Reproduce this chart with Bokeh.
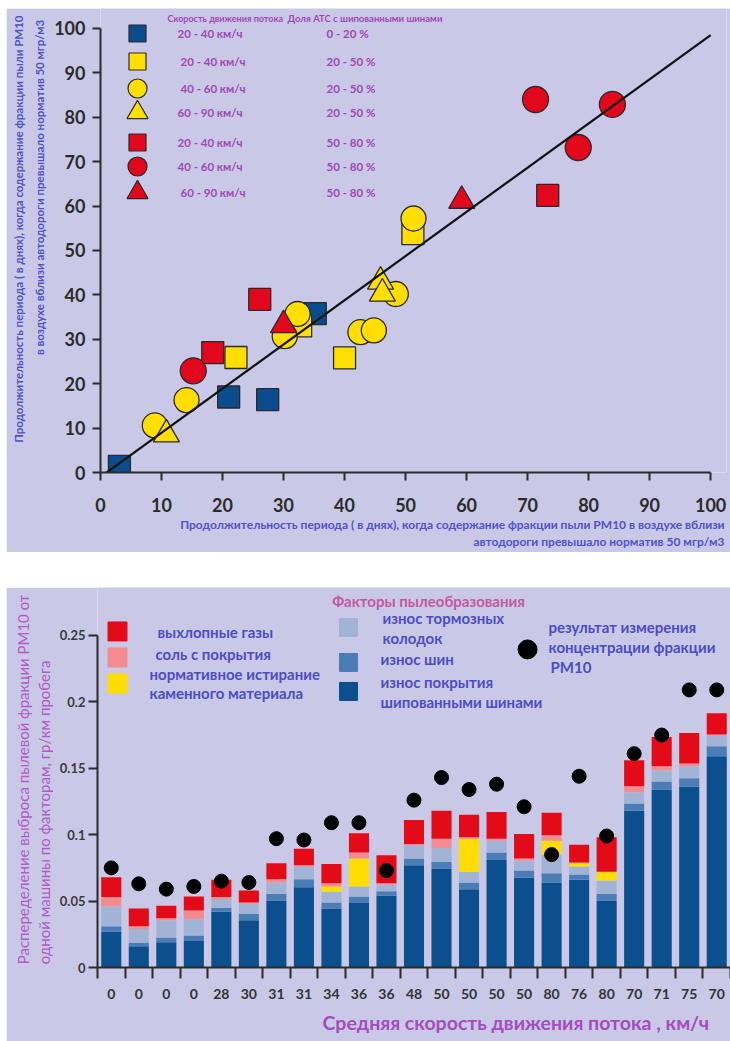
from bokeh.embed import file_html
from bokeh.layouts import column, row
from bokeh.models import ColumnDataSource, FixedTicker, Label, Range1d, Spacer, Title
from bokeh.plotting import figure
from bokeh.resources import INLINE

FONT = "Lato"
BG = "#c9c9e7"
INK = "#2b2b2b"

# ---------------------------------------------------------------------------
# Scatter: days above the PM10 limit (x: measured, y: calculated)
# ---------------------------------------------------------------------------
blue_sq_x = [3.1, 21.0, 27.4, 35.2]
blue_sq_y = [1.4, 17.0, 16.4, 35.8]
yellow_sq_x = [22.2, 32.8, 40.0, 51.2]
yellow_sq_y = [25.9, 33.0, 25.8, 53.8]
yellow_ci_x = [8.9, 14.1, 30.2, 32.3, 42.6, 44.8, 48.4, 51.3]
yellow_ci_y = [10.6, 16.3, 30.7, 35.7, 31.6, 32.0, 40.2, 57.2]
yellow_tr_x = [10.8, 45.9, 46.2]
yellow_tr_y = [8.6, 43.0, 40.3]
red_sq_x = [18.4, 26.1, 73.3]
red_sq_y = [27.0, 39.0, 62.4]
red_ci_x = [15.2, 71.3, 78.3, 83.9]
red_ci_y = [22.9, 84.0, 73.2, 82.9]
red_tr_x = [30.0, 59.2]
red_tr_y = [33.2, 61.2]
fit_x = [0, 100]
fit_y = [-1.0, 98.5]
scatter_ticks = [0, 10, 20, 30, 40, 50, 60, 70, 80, 90, 100]

speed_classes = ["20 - 40  км/ч", "20 - 40  км/ч", "40 - 60 км/ч", "60 - 90 км/ч",
                 "20 - 40  км/ч", "40 - 60 км/ч", "60 - 90 км/ч"]
stud_shares = ["0 - 20 %", "20 - 50 %", "20 - 50 %", "20 - 50 %",
               "50 - 80 %", "50 - 80 %", "50 - 80 %"]

# ---------------------------------------------------------------------------
# Bars: PM10 emission per vehicle split by source, g/km
# ---------------------------------------------------------------------------
speed_labels = ["0", "0", "0", "0", "28", "30", "31", "31", "34", "36", "36", "48",
                "50", "50", "50", "50", "80", "76", "80", "70", "71", "75", "70"]
stud_wear = [0.027, 0.016, 0.019, 0.020, 0.042, 0.0355, 0.0505, 0.0605, 0.0445, 0.0485,
             0.054, 0.077, 0.0745, 0.059, 0.081, 0.0675, 0.064, 0.066, 0.0505, 0.118,
             0.134, 0.136, 0.159]
tyre_wear = [0.004, 0.0025, 0.0035, 0.004, 0.003, 0.005, 0.005, 0.006, 0.0045, 0.005,
             0.0035, 0.005, 0.005, 0.005, 0.0055, 0.0055, 0.007, 0.004, 0.005, 0.0055,
             0.006, 0.0065, 0.0075]
brake_wear = [0.015, 0.0105, 0.013, 0.0125, 0.0065, 0.0075, 0.0085, 0.0095, 0.008, 0.0075,
              0.005, 0.010, 0.0105, 0.008, 0.009, 0.0075, 0.014, 0.006, 0.010, 0.0085,
              0.0085, 0.009, 0.008]
stone_abrasion = [0, 0, 0, 0, 0, 0, 0, 0, 0.004, 0.021, 0, 0, 0, 0.025, 0, 0, 0.0105,
                  0.0025, 0.0065, 0, 0, 0, 0]
road_salt = [0.007, 0.002, 0.0015, 0.0065, 0.0015, 0.001, 0.0025, 0.001, 0.0025, 0.0045,
             0.001, 0.001, 0.007, 0.001, 0.0015, 0.0015, 0.004, 0.0005, 0.0, 0.0045,
             0.003, 0.002, 0.001]
exhaust = [0.015, 0.0135, 0.0095, 0.0105, 0.013, 0.009, 0.012, 0.0125, 0.0145, 0.0145,
           0.021, 0.018, 0.021, 0.017, 0.020, 0.0185, 0.017, 0.0135, 0.026, 0.0195,
           0.022, 0.023, 0.016]
measured = [0.075, 0.063, 0.059, 0.061, 0.065, 0.064, 0.097, 0.096, 0.109, 0.109, 0.073,
            0.126, 0.143, 0.134, 0.138, 0.121, 0.085, 0.144, 0.099, 0.161, 0.175, 0.209,
            0.209]
bar_ticks = [0, 0.05, 0.1, 0.15, 0.2, 0.25]
bar_tick_text = ["0", "0.05", "0.1", "0.15", "0.2", "0.25"]

C_BLUE, C_YELLOW, C_RED = "#0b4d8c", "#ffde00", "#e3071c"
C_STUD, C_TYRE, C_BRAKE = "#0c4f8f", "#4a7cb6", "#a2b4d6"
C_STONE, C_SALT, C_EXH = "#ffdd00", "#f28c90", "#e40b19"


def label(fig, x, y, text, size, color, style="bold", align="left"):
    fig.add_layout(Label(x=x, y=y, text=text, text_font=FONT,
                         text_font_size=f"{size}px", text_font_style=style,
                         text_color=color, text_align=align, text_baseline="middle"))


def side_title(fig, side, text, size, color, align, offset, standoff, style="bold",
               line_height=1.2):
    fig.add_layout(Title(text=text, align=align, offset=offset, standoff=standoff,
                         text_font=FONT, text_font_size=f"{size}px",
                         text_font_style=style, text_color=color,
                         text_line_height=line_height), side)


def style_axes(fig, size):
    for ax in fig.axis:
        ax.axis_line_color = INK
        ax.axis_line_width = 2
        ax.major_tick_line_color = INK
        ax.major_tick_line_width = 2
        ax.major_tick_in = 0
        ax.minor_tick_line_color = None
        ax.major_label_text_font = FONT
        ax.major_label_text_font_style = "bold"
        ax.major_label_text_font_size = f"{size}px"
        ax.major_label_text_color = INK


# ---------------------------------------------------------------------------
# Top panel: scatter
# ---------------------------------------------------------------------------
p1 = figure(width=724, height=544, x_range=Range1d(0, 102.6), y_range=Range1d(0, 104.5),
            output_backend="svg", toolbar_location=None,
            min_border_left=94, min_border_right=4, min_border_top=0, min_border_bottom=80,
            background_fill_color=BG, border_fill_color=BG, outline_line_color=None)
p1.grid.visible = False
style_axes(p1, 18)
p1.xaxis.bounds = (0, 100)
p1.yaxis.bounds = (0, 100)
p1.xaxis.ticker = FixedTicker(ticks=scatter_ticks)
p1.yaxis.ticker = FixedTicker(ticks=scatter_ticks)
p1.axis.major_tick_out = 8
p1.xaxis.major_label_standoff = 17
p1.yaxis.major_label_standoff = 7

TITLE_BLUE = "#5151c9"
# axis titles, innermost line first
side_title(p1, "left", "в воздухе  вблизи  автодороги превышало норматив  50 мгр/м3",
           11.5, TITLE_BLUE, "right", 3, 12)
side_title(p1, "left", "Продолжительность периода ( в днях), когда содержание фракции пыли РМ10",
           11.5, TITLE_BLUE, "right", 7, 0)
side_title(p1, "below", "Продолжительность периода ( в днях), когда содержание фракции пыли РМ10 в воздухе  вблизи",
           12, TITLE_BLUE, "right", -1, 0)
side_title(p1, "below", "автодороги превышало норматив  50 мгр/м3",
           12, TITLE_BLUE, "right", -1, 0)

EDGE = "#2a2a2a"


def pts(fig, xs, ys, marker, color, size):
    fig.scatter(xs, ys, marker=marker, size=size, fill_color=color,
                line_color=EDGE, line_width=1.3)


pts(p1, blue_sq_x, blue_sq_y, "square", C_BLUE, 22)
pts(p1, yellow_sq_x, yellow_sq_y, "square", C_YELLOW, 22)
pts(p1, yellow_ci_x, yellow_ci_y, "circle", C_YELLOW, 25)
pts(p1, yellow_tr_x, yellow_tr_y, "triangle", C_YELLOW, 26)
pts(p1, red_sq_x, red_sq_y, "square", C_RED, 22)
pts(p1, red_ci_x, red_ci_y, "circle", C_RED, 26)
pts(p1, red_tr_x, red_tr_y, "triangle", C_RED, 26)
p1.line(fit_x, fit_y, line_color="#111111", line_width=2.2)


def at1(px, py):
    """page pixel -> scatter data coordinates"""
    return (px - 100) / 6.1, (472 - py) / 4.44


# legend of the scatter
LEG_PURPLE = "#a048b4"
swatches = [("square", C_BLUE, 17), ("square", C_YELLOW, 17), ("circle", C_YELLOW, 19),
            ("triangle", C_YELLOW, 21), ("square", C_RED, 17), ("circle", C_RED, 19),
            ("triangle", C_RED, 21)]
row_py = [33, 61, 88, 112, 142, 166, 192]
speed_px = [177, 180, 180, 177, 177, 177, 180]
for (mk, col, sz), py, spx, sp, sh in zip(swatches, row_py, speed_px, speed_classes, stud_shares):
    mx, my = at1(137, py)
    p1.scatter([mx], [my], marker=mk, size=sz, fill_color=col, line_color=EDGE, line_width=1.2)
    tx, ty = at1(spx, py)
    label(p1, tx, ty, sp, 11.5, LEG_PURPLE)
    tx, ty = at1(326, py)
    label(p1, tx, ty, sh, 11.5, LEG_PURPLE)
hx, hy = at1(167, 18)
label(p1, hx, hy, "Скорость движения потока", 9, LEG_PURPLE)
hx, hy = at1(287, 18)
label(p1, hx, hy, "Доля АТС с шипованными шинами", 9.5, LEG_PURPLE)

# ---------------------------------------------------------------------------
# Bottom panel: stacked bars
# ---------------------------------------------------------------------------
n = len(speed_labels)
p2 = figure(width=724, height=454, x_range=Range1d(0, n), y_range=Range1d(0, 0.2861),
            output_backend="svg", toolbar_location=None,
            min_border_left=91, min_border_right=0, min_border_top=0, min_border_bottom=74,
            background_fill_color=BG, border_fill_color=BG, outline_line_color=None)
p2.grid.visible = False
style_axes(p2, 14)
p2.yaxis.bounds = (0, 0.25)
p2.yaxis.ticker = FixedTicker(ticks=bar_ticks)
p2.yaxis.major_label_overrides = dict(zip(bar_ticks, bar_tick_text))
p2.yaxis.major_tick_out = 9
p2.yaxis.major_label_standoff = 3
p2.yaxis.major_label_text_font_size = "13px"
p2.yaxis.major_label_text_color = "#3a3a3a"

centers = [i + 0.5 for i in range(n)]
p2.xaxis.ticker = FixedTicker(ticks=centers, minor_ticks=list(range(n + 1)))
p2.xaxis.major_label_overrides = dict(zip(centers, speed_labels))
p2.xaxis.major_tick_out = 0
p2.xaxis.major_tick_line_color = None
p2.xaxis.minor_tick_line_color = INK
p2.xaxis.minor_tick_line_width = 2
p2.xaxis.minor_tick_out = 11
p2.xaxis.minor_tick_in = 0
p2.xaxis.major_label_standoff = 10
p2.xaxis.major_label_text_color = "#333333"

side_title(p2, "left", "Распеределение  выброса пылевой фракции РМ10 от\n"
                       "одной машины по факторам, гр/км пробега",
           15, "#b25bc8", "center", -10, 7, style="normal", line_height=1.15)
side_title(p2, "below", "Средняя скорость движения потока , км/ч",
           19.5, "#a54cc0", "left", 225, 15)

parts = ["stud", "tyre", "brake", "stone", "salt", "exhaust"]
part_colors = [C_STUD, C_TYRE, C_BRAKE, C_STONE, C_SALT, C_EXH]
src = ColumnDataSource(dict(x=centers, stud=stud_wear, tyre=tyre_wear, brake=brake_wear,
                            stone=stone_abrasion, salt=road_salt, exhaust=exhaust,
                            measured=measured))
p2.vbar_stack(parts, x="x", width=0.73, fill_color=part_colors, line_color=None, source=src)
p2.scatter("x", "measured", size=14, color="black", source=src)


def at2(px, py):
    """page pixel -> bar chart data coordinates (panel starts at page y=587)"""
    return (px - 97) / 27.52, (967 - py) / 1328


LEG_BLUE = "#4c4cc4"
for col, py in [(C_EXH, 631), (C_SALT, 657), (C_STONE, 683)]:
    sx, sy = at2(117, py)
    p2.scatter([sx], [sy], marker="square", size=19, color=col)
for col, py in [(C_BRAKE, 627), (C_TYRE, 662), (C_STUD, 691)]:
    sx, sy = at2(348, py)
    p2.scatter([sx], [sy], marker="square", size=18, color=col)
sx, sy = at2(527, 649)
p2.scatter([sx], [sy], size=19, color="black")

for px, py, txt in [(157, 632, "выхлопные газы"), (155, 654, "соль с покрытия"),
                    (149, 674, "нормативное истирание"), (149, 693, "каменного материала"),
                    (382, 618, "износ тормозных"), (382, 638, "колодок"),
                    (380, 659, "износ шин"), (380, 682, "износ покрытия"),
                    (380, 702, "шипованными шинами"), (548, 627, "результат измерения"),
                    (548, 647, "концентрации фракции"), (550, 667, "РМ10")]:
    tx, ty = at2(px, py)
    label(p2, tx, ty, txt, 15, LEG_BLUE)

tx, ty = at2(428, 601)
label(p2, tx, ty, "Факторы пылеобразования", 15, "#c159a4", align="center")

layout = column(Spacer(height=8), row(Spacer(width=6), p1), Spacer(height=35),
                row(Spacer(width=6), p2))

open("out.html", "w").write(file_html(layout, INLINE))
